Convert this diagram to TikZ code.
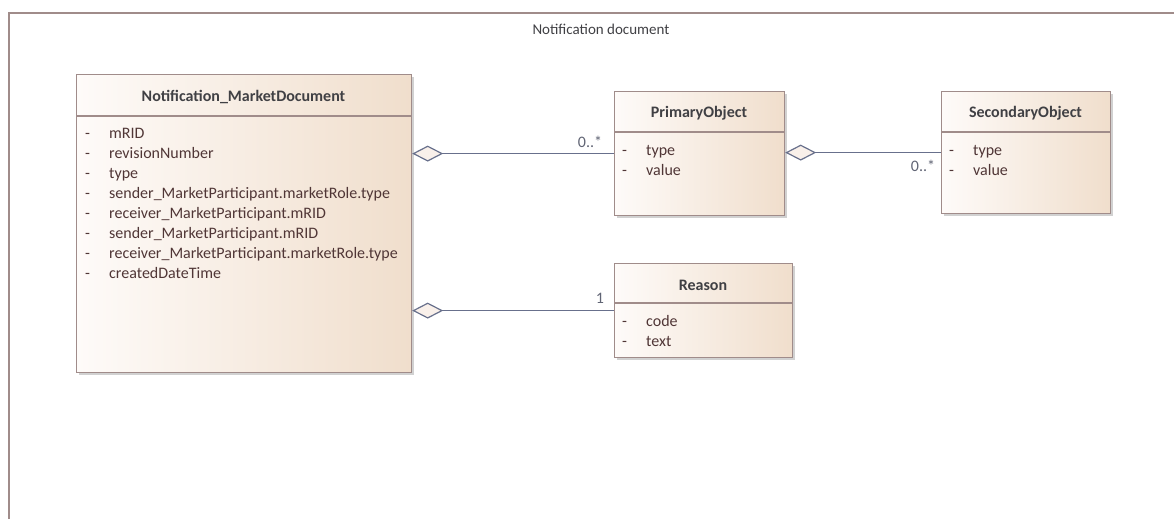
\documentclass[tikz,border=0pt]{standalone}
\usepackage{fontspec}
\setmainfont{Carlito}
\usetikzlibrary{arrows.meta,calc,shadows}

\definecolor{boxline}{RGB}{160,140,138}
\definecolor{boxleft}{RGB}{254,251,249}
\definecolor{boxright}{RGB}{240,222,204}
\definecolor{titletext}{RGB}{64,64,68}
\definecolor{attrtext}{RGB}{80,54,54}
\definecolor{linkline}{RGB}{104,112,140}
\definecolor{diafill}{RGB}{249,240,234}
\definecolor{multtext}{RGB}{96,100,116}

\tikzset{
  classbox/.style={draw=boxline, line width=1.2pt, left color=boxleft, right color=boxright,
    anchor=north west, inner sep=0pt,
    drop shadow={shadow xshift=2pt, shadow yshift=-2pt, fill=black, opacity=0.18}},
  classname/.style={font=\fontsize{16}{19}\selectfont\bfseries, text=titletext},
  attrs/.style={anchor=north west, align=left, inner sep=0pt,
    font=\fontsize{16}{20}\selectfont, text=attrtext},
  sepline/.style={draw=boxline, line width=1.2pt},
  aggr/.style={draw=linkline, line width=1.2pt, {Diamond[length=31pt,width=16pt,fill=diafill]}-},
  mult/.style={font=\fontsize{16}{18}\selectfont, text=multtext},
  frame/.style={draw=boxline, line width=1.5pt}
}
\newcommand{\dash}{\makebox[24pt][l]{-}}

\begin{document}
\begin{tikzpicture}[x=1pt,y=-1pt]
\useasboundingbox (0,0) rectangle (1174,519);
% frame
\draw[frame] (9,519) -- (9,13) -- (1174,13);
\node[font=\fontsize{15}{18}\selectfont, text=titletext] (frametitle) at (601,29) {Notification document};

% Notification_MarketDocument
\node[classbox, minimum width=335pt, minimum height=298pt] (doc) at (76,74) {};
\node[classname] (docname) at (243.5,97) {Notification\_MarketDocument};
\draw[sepline] (doc.west |- 0,116) -- (doc.east |- 0,116);
\node[attrs] (docattrs) at (85,128) {\dash mRID\\ \dash revisionNumber\\ \dash type\\
  \dash sender\_MarketParticipant.marketRole.type\\ \dash receiver\_MarketParticipant.mRID\\
  \dash sender\_MarketParticipant.mRID\\ \dash receiver\_MarketParticipant.marketRole.type\\
  \dash createdDateTime};

% PrimaryObject
\node[classbox, minimum width=170pt, minimum height=124pt] (prim) at (614,91) {};
\node[classname] (primname) at (699,113) {PrimaryObject};
\draw[sepline] (prim.west |- 0,132) -- (prim.east |- 0,132);
\node[attrs] (primattrs) at (622,145) {\dash type\\ \dash value};

% SecondaryObject
\node[classbox, minimum width=169pt, minimum height=122pt] (sec) at (941,91) {};
\node[classname] (secname) at (1025.5,113) {SecondaryObject};
\draw[sepline] (sec.west |- 0,132) -- (sec.east |- 0,132);
\node[attrs] (secattrs) at (949,145) {\dash type\\ \dash value};

% Reason
\node[classbox, minimum width=178pt, minimum height=94pt] (reason) at (614,263) {};
\node[classname] (reasonname) at (703,285) {Reason};
\draw[sepline] (reason.west |- 0,303) -- (reason.east |- 0,303);
\node[attrs] (reasonattrs) at (622,315) {\dash code\\ \dash text};

% aggregations
\draw[aggr] (doc.east |- prim.west) -- (prim.west)
  node[mult, pos=1, above left, xshift=-8pt, yshift=2pt] {0..*};
\draw[aggr] (prim.east |- sec.west) -- (sec.west)
  node[mult, pos=1, below left, xshift=-2pt, yshift=-4pt] {0..*};
\draw[aggr] (doc.east |- reason.west) -- (reason.west)
  node[mult, pos=1, above left, xshift=-6pt, yshift=3pt] {1};
\end{tikzpicture}
\end{document}
